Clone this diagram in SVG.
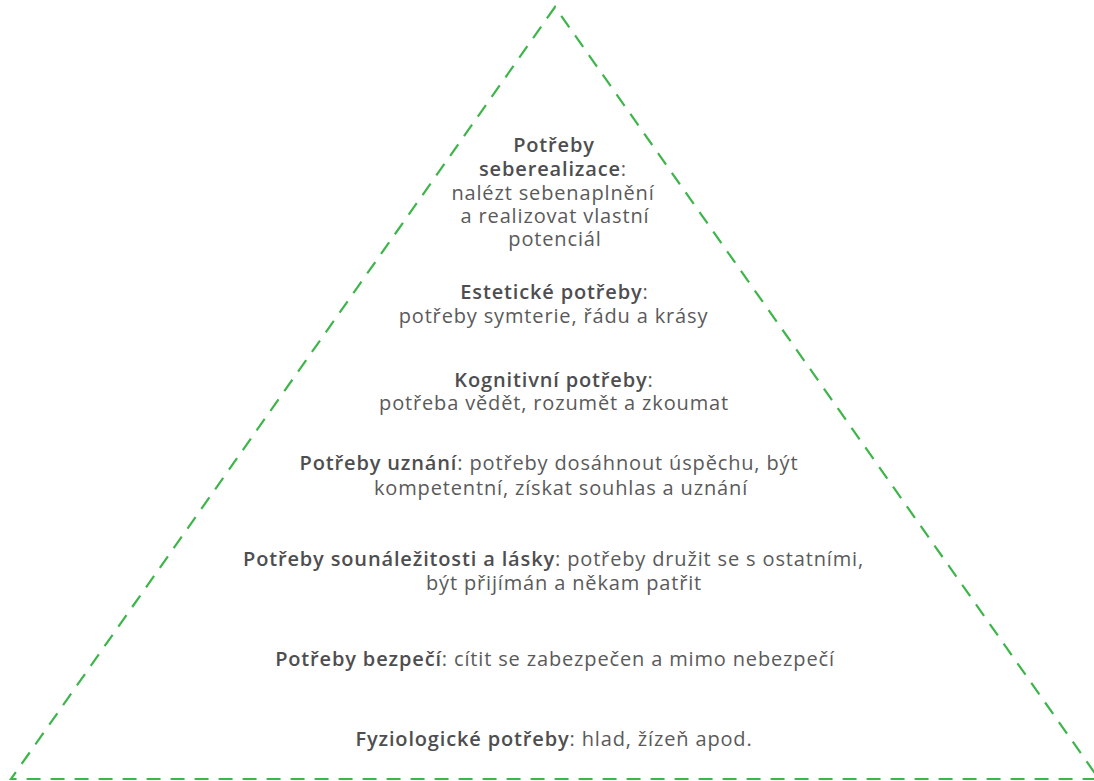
<svg xmlns="http://www.w3.org/2000/svg" width="1094" height="781" viewBox="0 0 1094 781">
<style>
.tri{fill:none;stroke:#3db54a;stroke-width:2.2;stroke-dasharray:14 10}
text{font-family:"Open Sans","Liberation Sans",sans-serif;font-size:20px;letter-spacing:0.85px;fill:#5a5a5b;text-anchor:middle}
.b{font-weight:600;fill:#4e4e50}
</style>
<rect width="1094" height="781" fill="#fff"/>
<g id="pyramid">
<polygon class="tri" points="555,7 11,779 1099,779"/>
</g>
<g id="level7">
<text x="554" y="152" class="b">Potřeby</text>
<text x="553" y="176"><tspan class="b">seberealizace</tspan>:</text>
<text x="553" y="200">nalézt sebenaplnění</text>
<text x="555" y="223">a realizovat vlastní</text>
<text x="555" y="246">potenciál</text>
</g>
<g id="level6">
<text x="554.5" y="299"><tspan class="b">Estetické potřeby</tspan>:</text>
<text x="553.5" y="323">potřeby symterie, řádu a krásy</text>
</g>
<g id="level5">
<text x="554" y="387"><tspan class="b">Kognitivní potřeby</tspan>:</text>
<text x="554" y="410">potřeba vědět, rozumět a zkoumat</text>
</g>
<g id="level4">
<text x="549" y="470"><tspan class="b">Potřeby uznání</tspan>: potřeby dosáhnout úspěchu, být</text>
<text x="561" y="495">kompetentní, získat souhlas a uznání</text>
</g>
<g id="level3">
<text x="553.5" y="566"><tspan class="b">Potřeby sounáležitosti a lásky</tspan>: potřeby družit se s ostatními,</text>
<text x="564" y="590">být přijímán a někam patřit</text>
</g>
<g id="level2">
<text x="555" y="666"><tspan class="b">Potřeby bezpečí</tspan>: cítit se zabezpečen a mimo nebezpečí</text>
</g>
<g id="level1">
<text x="554" y="746"><tspan class="b">Fyziologické potřeby</tspan>: hlad, žízeň apod.</text>
</g>
</svg>
